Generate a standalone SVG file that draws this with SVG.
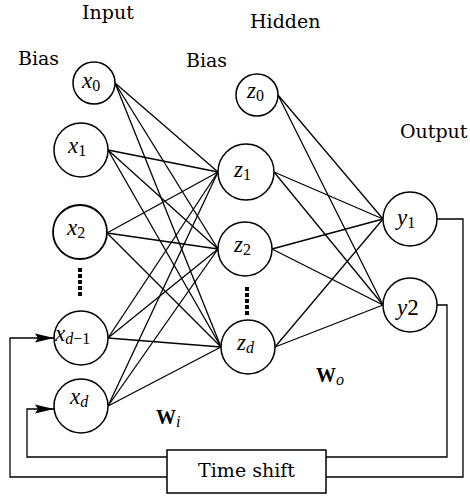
<svg xmlns="http://www.w3.org/2000/svg" width="470" height="500" viewBox="0 0 470 500">
<defs>
<style>
.lbl{font-family:"DejaVu Serif","Liberation Serif",serif;font-size:19px;fill:#000}
.var{font-family:"Liberation Serif",serif;font-style:italic;font-size:23px;fill:#000}
.sub{font-family:"Liberation Serif",serif;font-style:normal;font-size:16px}
.subi{font-family:"Liberation Serif",serif;font-style:italic;font-size:16px}
.node{fill:#fff;stroke:#000;stroke-width:1.5}
.edge{stroke:#000;stroke-width:1.3;fill:none}
.dots{stroke:#000;stroke-width:4;stroke-dasharray:4 2;fill:none}
.bold{font-family:"Liberation Serif",serif;font-weight:bold;font-size:20px}
</style>
<marker id="arr" markerWidth="20" markerHeight="10" refX="19" refY="5" orient="auto" markerUnits="userSpaceOnUse">
<path d="M0,0.5 L19,5 L0,9.5 L3,5 Z" fill="#000"/>
</marker>
</defs>
<rect width="470" height="500" fill="#fff"/>

<g id="connectors">
<g class="edge">
<line x1="115" y1="83" x2="218" y2="172"/><line x1="115" y1="83" x2="218" y2="249"/><line x1="115" y1="83" x2="221" y2="347"/>
<line x1="108" y1="150" x2="218" y2="172"/><line x1="108" y1="150" x2="218" y2="249"/><line x1="108" y1="150" x2="221" y2="347"/>
<line x1="107" y1="233" x2="218" y2="172"/><line x1="107" y1="233" x2="218" y2="249"/><line x1="107" y1="233" x2="221" y2="347"/>
<line x1="108" y1="338" x2="218" y2="172"/><line x1="108" y1="338" x2="218" y2="249"/><line x1="108" y1="338" x2="221" y2="347"/>
<line x1="108" y1="406" x2="218" y2="172"/><line x1="108" y1="406" x2="218" y2="249"/><line x1="108" y1="406" x2="221" y2="347"/>
<line x1="278" y1="95" x2="383" y2="219"/><line x1="278" y1="95" x2="383" y2="305"/>
<line x1="274" y1="172" x2="383" y2="219"/><line x1="274" y1="172" x2="383" y2="305"/>
<line x1="272" y1="249" x2="383" y2="219"/><line x1="272" y1="249" x2="383" y2="305"/>
<line x1="275" y1="347" x2="383" y2="219"/><line x1="275" y1="347" x2="383" y2="305"/>
<polyline points="437,219 463,219 463,477 326,477"/>
<polyline points="437,305 447,305 447,457 326,457"/>
<polyline points="167,477 10,477 10,338 54,338" marker-end="url(#arr)"/>
<polyline points="167,457 27,457 27,409 54,409" marker-end="url(#arr)"/>
</g>
<line class="dots" x1="80" y1="268" x2="80" y2="297"/>
<line class="dots" x1="247" y1="287" x2="247" y2="316"/>
</g>

<text class="lbl" x="82" y="19">Input</text>
<text class="lbl" x="250" y="28">Hidden</text>
<text class="lbl" x="18" y="65">Bias</text>
<text class="lbl" x="186" y="67">Bias</text>
<text class="lbl" x="400" y="138">Output</text>

<g id="x0"><circle class="node" cx="94" cy="83" r="21"/><text class="var" x="82" y="88">x<tspan class="sub" dy="3">0</tspan></text></g>
<g id="x1"><circle class="node" cx="81" cy="150" r="27"/><text class="var" x="68" y="153">x<tspan class="sub" dy="3">1</tspan></text></g>
<g id="x2"><circle class="node" cx="80" cy="232" r="27" style="stroke-width:1.8"/><text class="var" x="67" y="235">x<tspan class="sub" dy="3">2</tspan></text></g>
<g id="xd1"><circle class="node" cx="81" cy="338" r="27"/><text class="var" x="55" y="341">x<tspan class="subi" dy="3">d</tspan><tspan class="sub">−1</tspan></text></g>
<g id="xd"><circle class="node" cx="81" cy="406" r="27"/><text class="var" x="70" y="404">x<tspan class="subi" dy="3">d</tspan></text></g>

<g id="z0"><circle class="node" cx="257" cy="95" r="21"/><text class="var" x="247" y="98">z<tspan class="sub" dy="3">0</tspan></text></g>
<g id="z1"><circle class="node" cx="246" cy="172" r="28"/><text class="var" x="234" y="177">z<tspan class="sub" dy="3">1</tspan></text></g>
<g id="z2"><circle class="node" cx="245" cy="249" r="27"/><text class="var" x="234" y="252">z<tspan class="sub" dy="3">2</tspan></text></g>
<g id="zd"><circle class="node" cx="248" cy="347" r="27"/><text class="var" x="237" y="350">z<tspan class="subi" dy="3">d</tspan></text></g>

<g id="y1"><circle class="node" cx="410" cy="219" r="27"/><text class="var" x="397" y="225">y<tspan class="sub" dy="3">1</tspan></text></g>
<g id="y2"><circle class="node" cx="410" cy="305" r="27"/><text class="var" x="397" y="315">y<tspan style="font-style:normal">2</tspan></text></g>

<g id="timeshift"><rect x="167" y="450" width="159" height="43" fill="#fff" stroke="#000" stroke-width="1.5"/><text class="lbl" x="246.5" y="477" text-anchor="middle">Time shift</text></g>

<text class="bold" x="156" y="424">W<tspan class="subi" dy="3" style="font-weight:normal">i</tspan></text>
<text class="bold" x="316" y="382">W<tspan class="subi" dy="3" style="font-weight:normal">o</tspan></text>
</svg>
